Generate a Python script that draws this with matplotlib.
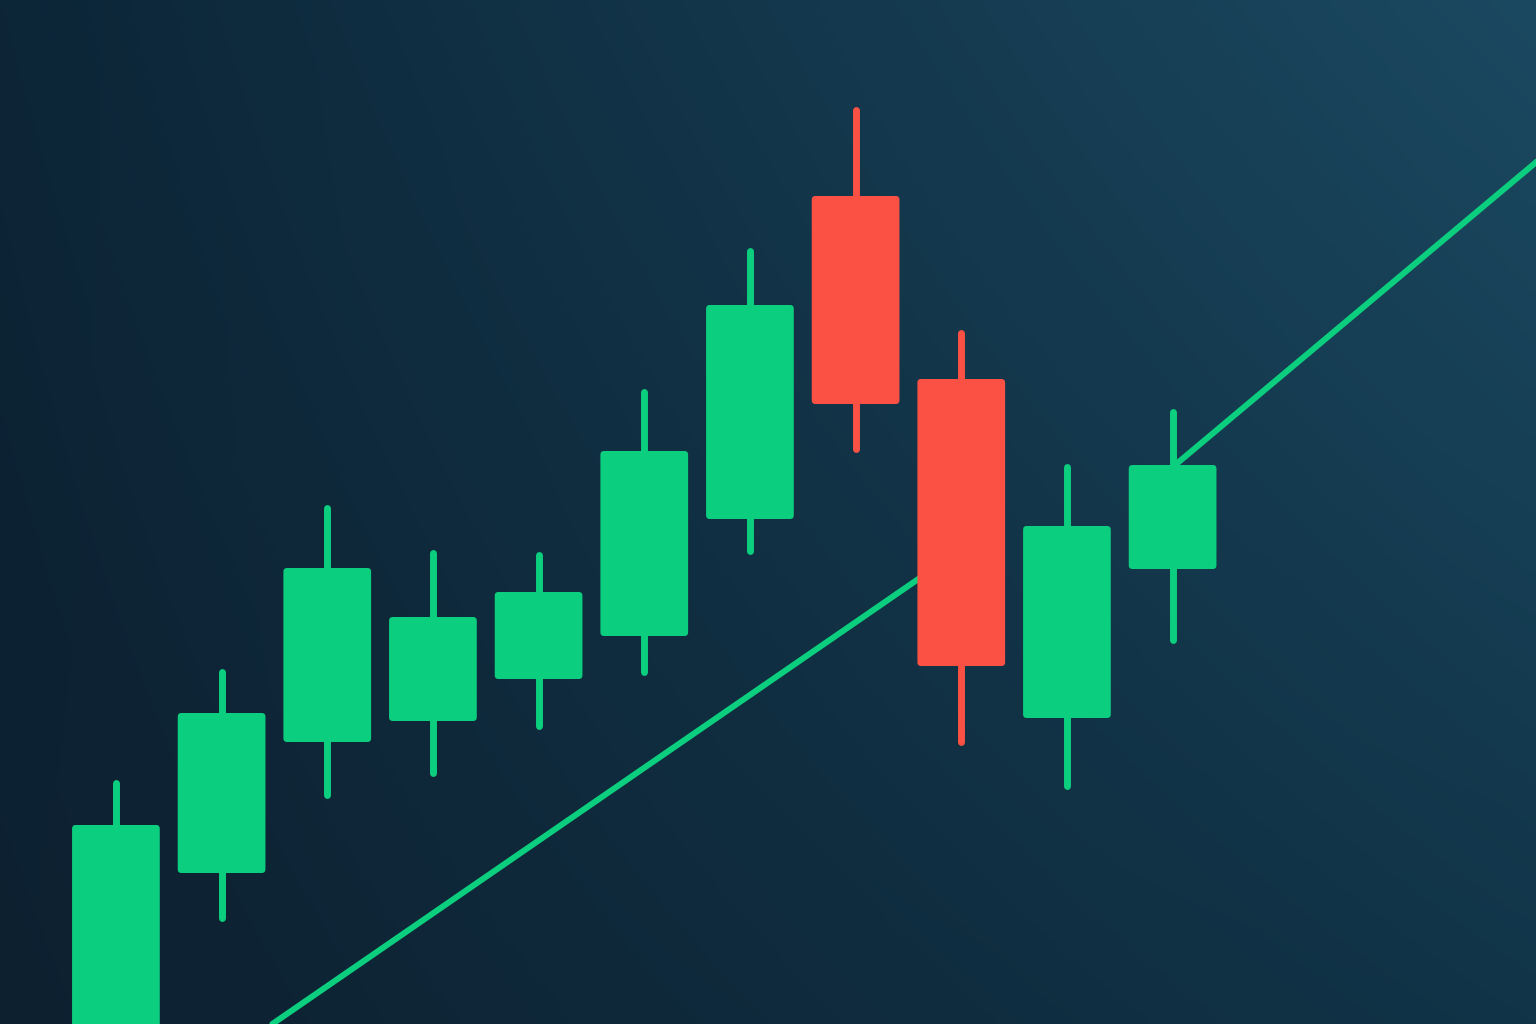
import numpy as np
import matplotlib
matplotlib.use("Agg")
import matplotlib.pyplot as plt
from matplotlib.patches import FancyBboxPatch

# candle data (price units, 11 sessions)
opens = [-5.0, 15.1, 28.2, 30.3, 34.5, 38.8, 50.5, 82.8, 64.5, 30.6, 45.5]
closes = [19.9, 31.1, 45.6, 40.7, 43.2, 57.3, 71.9, 62.0, 35.8, 49.8, 55.9]
highs = [24.1, 35.2, 51.6, 47.1, 46.9, 63.2, 77.3, 91.4, 69.1, 55.7, 61.2]
lows = [-8.0, 10.6, 22.9, 25.1, 29.8, 35.2, 47.3, 57.5, 28.2, 23.8, 38.4]

# trend line (two pieces, hidden behind candles in between)
trend_x = [1.48, 7.80, np.nan, 9.99, 13.6]
trend_y = [0.0, 46.0, np.nan, 55.6, 87.6]

green = "#0bcf7e"
red = "#fa5144"

fig = plt.figure(figsize=(15.36, 10.24), dpi=100)

# background gradient
bg = fig.add_axes([0, 0, 1, 1])
bg.set_axis_off()
bl = np.array([13, 32, 48]) / 255
tl = np.array([12, 37, 55]) / 255
br = np.array([17, 52, 72]) / 255
tr = np.array([27, 73, 97]) / 255
u = np.linspace(0, 1, 300)[None, :, None]
v = np.linspace(1, 0, 200)[:, None, None]
img = (bl * (1 - u) * (1 - v) + br * u * (1 - v) + tl * (1 - u) * v + tr * u * v)
bg.imshow(img, aspect="auto", extent=[0, 1, 0, 1], interpolation="bicubic")

ax = fig.add_axes([0, 0, 1, 1])
ax.set_axis_off()
ax.patch.set_alpha(0)
ax.set_xlim(-1.097, 13.439)
ax.set_ylim(0, 102.4)

ax.plot(trend_x, trend_y, color=green, lw=4.3, solid_capstyle="round", zorder=1)

w = 0.83
for i in range(len(opens)):
    c = green if closes[i] >= opens[i] else red
    ax.plot([i, i], [lows[i], highs[i]], color=c, lw=5.0,
            solid_capstyle="round", zorder=2)
    lo = min(opens[i], closes[i])
    hi = max(opens[i], closes[i])
    box = FancyBboxPatch((i - w / 2, lo), w, hi - lo,
                         boxstyle="round,pad=0,rounding_size=0.035",
                         mutation_aspect=10.567,
                         facecolor=c, edgecolor="none", zorder=3)
    ax.add_patch(box)

fig.savefig("out.png", dpi=100)
